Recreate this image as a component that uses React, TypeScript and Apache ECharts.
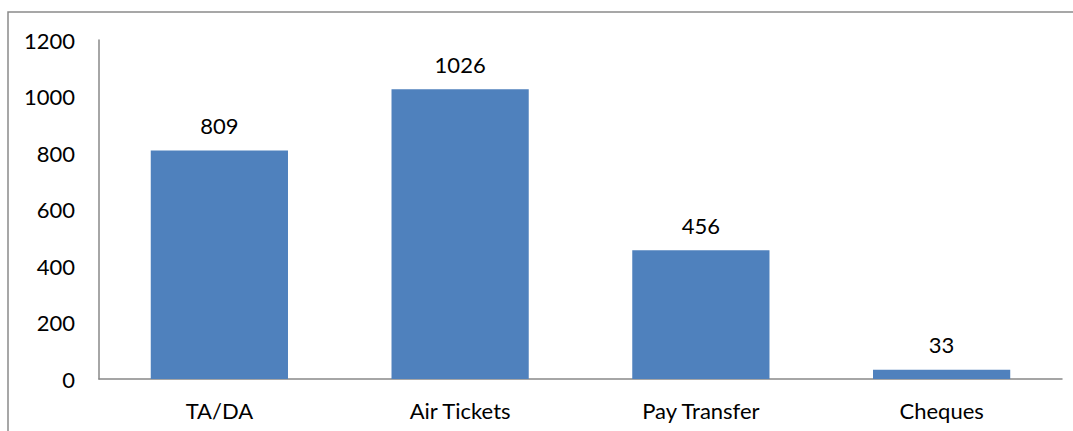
import React, { useEffect, useRef } from "react";
import * as echarts from "echarts";

const categories = ["TA/DA", "Air Tickets", "Pay Transfer", "Cheques"];
const values = [809, 1026, 456, 33];
const yTicks = [0, 200, 400, 600, 800, 1000, 1200];

export default function App() {
  const ref = useRef<HTMLDivElement>(null);
  useEffect(() => {
    document.body.style.margin = "0";
    const chart = echarts.init(ref.current!, null, { renderer: "svg" });
    const font = "Lato, 'Open Sans', sans-serif";
    chart.setOption({
      animation: false,
      grid: { left: 99, right: 11, top: 40, bottom: 52, containLabel: false },
      graphic: [
        {
          type: "rect",
          shape: { x: 8, y: 12, width: 1200, height: 600 },
          style: { fill: "none", stroke: "#8a8a8a", lineWidth: 1.5 },
          silent: true,
        },
      ],
      xAxis: {
        type: "category",
        data: categories,
        axisLine: { lineStyle: { color: "#888888", width: 1.5 } },
        axisTick: { show: false },
        axisLabel: { color: "#000", fontSize: 22, fontFamily: font, margin: 20 },
      },
      yAxis: {
        type: "value",
        min: yTicks[0],
        max: yTicks[yTicks.length - 1],
        interval: 200,
        axisLine: { show: true, lineStyle: { color: "#888888", width: 1.5 } },
        axisTick: { show: false },
        splitLine: { show: false },
        axisLabel: {
          color: "#000",
          fontSize: 22,
          fontFamily: font,
          margin: 24,
          formatter: (v: number) => String(v),
        },
      },
      series: [
        {
          type: "bar",
          data: values,
          barWidth: "57%",
          itemStyle: { color: "#4F81BD" },
          label: {
            show: true,
            position: "top",
            distance: 14,
            color: "#000",
            fontSize: 22,
            fontFamily: font,
          },
        },
      ],
    });
    return () => chart.dispose();
  }, []);
  return <div ref={ref} style={{ width: 1073, height: 431 }} />;
}
